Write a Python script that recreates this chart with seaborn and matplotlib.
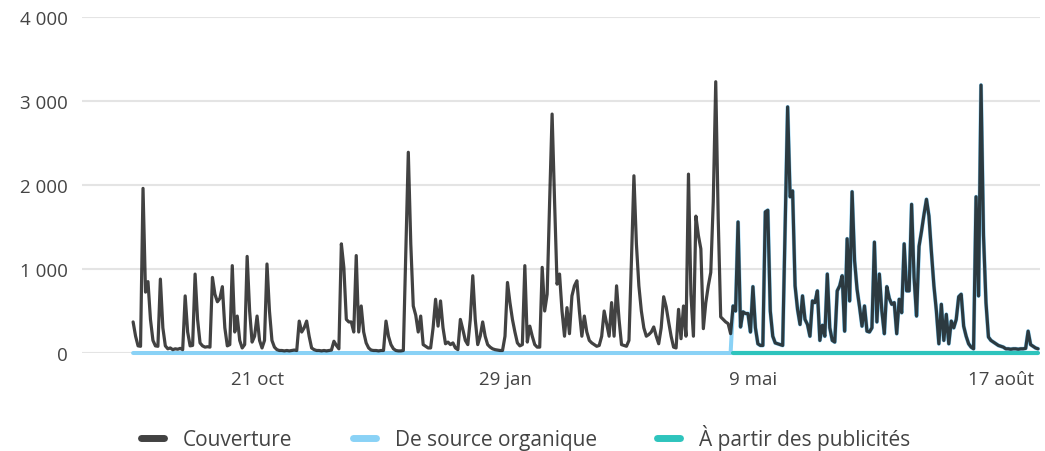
import matplotlib

matplotlib.use("Agg")
import matplotlib.pyplot as plt
from matplotlib.lines import Line2D
import numpy as np
import pandas as pd
import seaborn as sns


START = "2022-09-01"
ADS_START = "2023-05-01"

# daily reach ("Couverture")
sep_2022 = [370, 200, 85, 80, 1960, 725, 850, 400, 150, 85,
            80, 880, 300, 85, 50, 60, 40, 50, 45, 55,
            40, 680, 250, 85, 90, 940, 400, 120, 85, 70]
oct_2022 = [75, 70, 900, 700, 610, 650, 790, 300, 85, 100,
            1040, 250, 440, 150, 60, 100, 1150, 500, 130, 200,
            440, 150, 60, 150, 1060, 500, 150, 70, 40, 30, 30]
nov_2022 = [25, 30, 25, 30, 35, 30, 380, 250, 300, 380,
            200, 60, 40, 30, 30, 25, 30, 25, 30, 35,
            140, 90, 50, 1300, 1020, 400, 370, 370, 250, 1160]
dec_2022 = [250, 560, 250, 120, 60, 35, 30, 30, 25, 30,
            30, 380, 200, 100, 50, 30, 25, 25, 30, 1200,
            2390, 1300, 560, 450, 250, 440, 100, 80, 60, 60, 300]
jan_2023 = [640, 320, 620, 300, 110, 130, 100, 120, 60, 40,
            400, 280, 150, 100, 400, 920, 400, 100, 200, 370,
            200, 100, 70, 50, 40, 35, 30, 30, 200, 840, 600]
feb_2023 = [400, 250, 120, 85, 100, 1040, 130, 320, 200, 100,
            70, 70, 1020, 500, 700, 1800, 2845, 1800, 820, 940,
            500, 200, 540, 230, 680, 800, 860, 500]
mar_2023 = [200, 440, 250, 150, 120, 100, 80, 90, 200, 500,
            350, 200, 600, 200, 800, 400, 100, 90, 80, 150,
            1100, 2110, 1300, 800, 500, 300, 200, 220, 250, 310, 200]
apr_2023 = [110, 300, 670, 550, 370, 200, 70, 60, 520, 170,
            560, 200, 2130, 700, 200, 1630, 1400, 1240, 290, 600,
            800, 960, 1800, 3230, 1600, 430, 400, 370, 350, 230]
may_2023 = [560, 500, 1560, 310, 490, 470, 470, 250, 790, 300,
            110, 90, 90, 1680, 1700, 500, 200, 120, 110, 100,
            90, 1500, 2930, 1860, 1930, 800, 520, 340, 680, 400, 340]
jun_2023 = [200, 620, 600, 740, 150, 330, 200, 940, 300, 150,
            130, 740, 800, 920, 260, 1360, 620, 1920, 1100, 760,
            550, 320, 560, 260, 250, 300, 1320, 370, 940, 500]
jul_2023 = [230, 790, 650, 580, 600, 230, 640, 480, 1300, 740,
            740, 1770, 900, 440, 1270, 1450, 1650, 1830, 1630, 1200,
            800, 500, 110, 580, 150, 460, 110, 380, 300, 400, 670]
aug_2023 = [700, 320, 200, 110, 70, 50, 1860, 680, 3190, 1400,
            600, 190, 150, 130, 110, 90, 80, 70, 50, 50,
            45, 50, 50, 45, 50, 50, 55, 260, 100, 80, 60]
sep_2023 = [50]

couverture = (sep_2022 + oct_2022 + nov_2022 + dec_2022 + jan_2023 + feb_2023
              + mar_2023 + apr_2023 + may_2023 + jun_2023 + jul_2023 + aug_2023 + sep_2023)

Y_TICKS = [0, 1000, 2000, 3000, 4000]
Y_LABELS = ["0", "1 000", "2 000", "3 000", "4 000"]
X_TICKS = ["2022-10-21", "2023-01-29", "2023-05-09", "2023-08-17"]
X_LABELS = ["21 oct", "29 jan", "9 mai", "17 août"]
SERIES = ["Couverture", "De source organique", "À partir des publicités"]

DARK = "#181818"
DARK_ALPHA = 0.82
LIGHT_BLUE = "#8ad2f6"
TEAL = "#2ec4bd"
TEXT = "#444444"

dates = pd.date_range(START, periods=len(couverture), freq="D")
df = pd.DataFrame({"date": dates, "couverture": couverture})
since_ads = df["date"] >= pd.Timestamp(ADS_START)
# the breakdown only exists from May on: organic follows reach, ads stay at 0
df["organique"] = np.where(since_ads, df["couverture"], 0)
df["publicites"] = np.where(since_ads, 0.0, np.nan)

sns.set_theme(style="white")
plt.rcParams["font.family"] = ["Open Sans", "DejaVu Sans"]

fig = plt.figure(figsize=(10.45, 4.52), dpi=100)
ax = fig.add_axes([0.0785, 0.2168, 0.9165, 0.7432])

ax.set_yticks(Y_TICKS)
ax.yaxis.grid(True, color="#e4e4e4", linewidth=1.5)
ax.set_axisbelow(True)

sns.lineplot(data=df, x="date", y="organique", ax=ax, color=LIGHT_BLUE,
             linewidth=2.9, clip_on=False, zorder=2)
sns.lineplot(data=df.dropna(subset=["publicites"]), x="date", y="publicites", ax=ax,
             color=TEAL, linewidth=3.0, clip_on=False, zorder=3)
sns.lineplot(data=df, x="date", y="couverture", ax=ax, color=DARK, alpha=DARK_ALPHA,
             linewidth=2.3, clip_on=False, zorder=4)

start = pd.Timestamp(START)
ax.set_xlim(start - pd.Timedelta(days=20.6), start + pd.Timedelta(days=365.7))
ax.set_ylim(0, 4000)
ax.set_yticklabels(Y_LABELS)
ax.set_xticks(pd.to_datetime(X_TICKS))
ax.set_xticklabels(X_LABELS)
ax.tick_params(axis="y", length=0, labelsize=13.5, colors=TEXT, pad=10)
ax.tick_params(axis="x", length=0, labelsize=13.5, colors=TEXT, pad=12)
ax.set_xlabel("")
ax.set_ylabel("")
sns.despine(ax=ax, left=True, bottom=True)

handles = [
    Line2D([], [], color=c, linewidth=5, solid_capstyle="round", alpha=a)
    for c, a in [(DARK, DARK_ALPHA), (LIGHT_BLUE, 1.0), (TEAL, 1.0)]
]
fig.legend(handles, SERIES, loc="center", bbox_to_anchor=(0.503, 0.031), ncol=3,
           frameon=False, handlelength=1.1, handletextpad=0.9, columnspacing=2.9,
           fontsize=15, labelcolor=TEXT)

fig.savefig("out.png", dpi=100)
